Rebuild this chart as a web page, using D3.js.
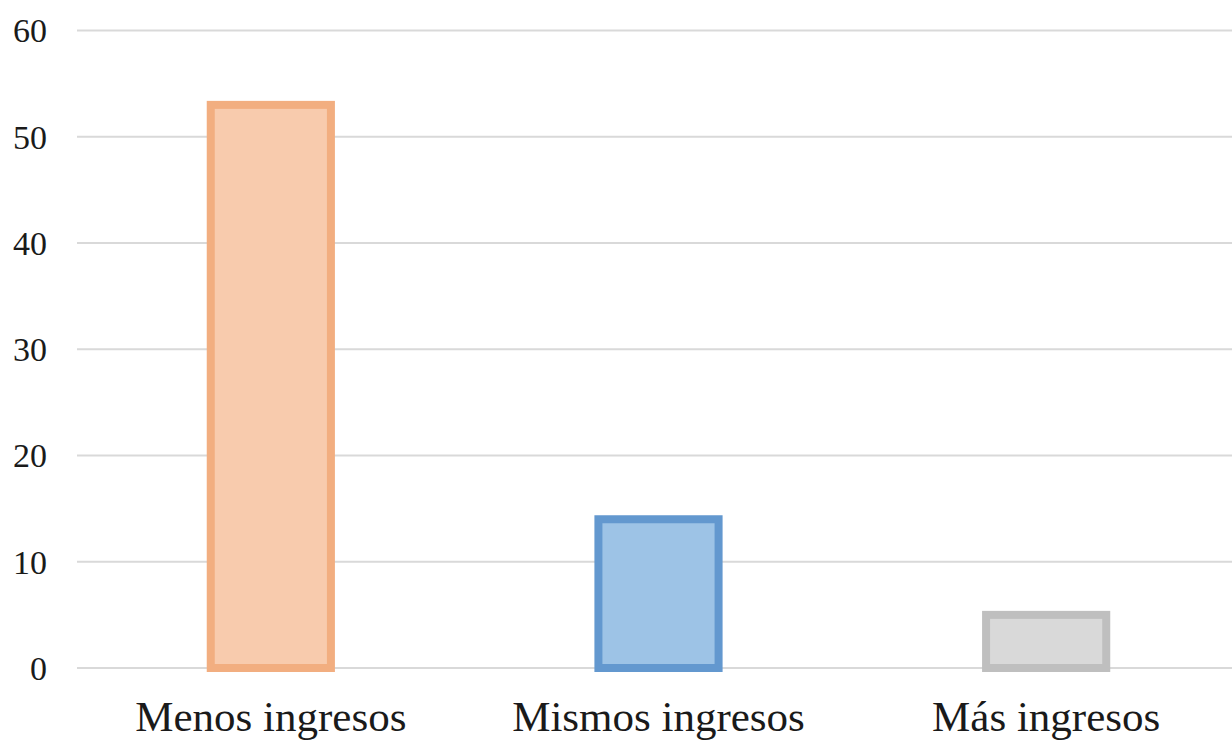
<!DOCTYPE html>
<html>
<head>
<meta charset="utf-8">
<script src="https://cdn.jsdelivr.net/npm/d3@7"></script>
<style>
  html, body { margin: 0; padding: 0; background: #fff; overflow: hidden; }
  svg { display: block; }
</style>
</head>
<body>
<svg id="chart" width="1232" height="742"></svg>
<script>
const categories = ['Menos ingresos', 'Mismos ingresos', 'Más ingresos'];
const values = [53, 14, 5];
const fills = ['#f8cbad', '#9dc3e6', '#d9d9d9'];
const strokes = ['#f2ae80', '#6398cf', '#bfbfbf'];
const yTicks = [0, 10, 20, 30, 40, 50, 60];

const margin = { top: 30.5, right: -8, bottom: 74, left: 77 };
const svg = d3.select('#chart');
const outerWidth = +svg.attr('width');
const outerHeight = +svg.attr('height');
const width = outerWidth - margin.left - margin.right;
const height = outerHeight - margin.top - margin.bottom;

const data = categories.map((c, i) => ({ category: c, value: values[i], fill: fills[i], stroke: strokes[i] }));

const x = d3.scaleBand()
  .domain(categories)
  .range([0, width])
  .paddingInner(0.69)
  .paddingOuter(0.345);

const y = d3.scaleLinear()
  .domain([0, 60])
  .range([height, 0]);

const plot = svg.append('g')
  .attr('transform', `translate(${margin.left},${margin.top})`);

// gridlines
plot.append('g')
  .selectAll('line')
  .data(yTicks)
  .enter()
  .append('line')
  .attr('x1', 0)
  .attr('x2', width)
  .attr('y1', d => y(d))
  .attr('y2', d => y(d))
  .attr('stroke', '#d9d9d9')
  .attr('stroke-width', 2);

// y tick labels
plot.append('g')
  .selectAll('text')
  .data(yTicks)
  .enter()
  .append('text')
  .attr('x', -30)
  .attr('y', d => y(d))
  .attr('dy', '0.35em')
  .attr('text-anchor', 'end')
  .attr('font-family', '"Liberation Serif", "Times New Roman", serif')
  .attr('font-size', 34)
  .attr('fill', '#1a1a1a')
  .text(d => d);

// bars
plot.append('g')
  .selectAll('rect')
  .data(data)
  .enter()
  .append('rect')
  .attr('x', d => x(d.category))
  .attr('y', d => y(d.value))
  .attr('width', x.bandwidth())
  .attr('height', d => y(0) - y(d.value))
  .attr('fill', d => d.fill)
  .attr('stroke', d => d.stroke)
  .attr('stroke-width', 8);

// category labels
plot.append('g')
  .selectAll('text')
  .data(categories)
  .enter()
  .append('text')
  .attr('x', d => x(d) + x.bandwidth() / 2)
  .attr('y', height + 63)
  .attr('text-anchor', 'middle')
  .attr('font-family', '"Liberation Serif", "Times New Roman", serif')
  .attr('font-size', 43)
  .attr('fill', '#1a1a1a')
  .text(d => d);
</script>
</body>
</html>
